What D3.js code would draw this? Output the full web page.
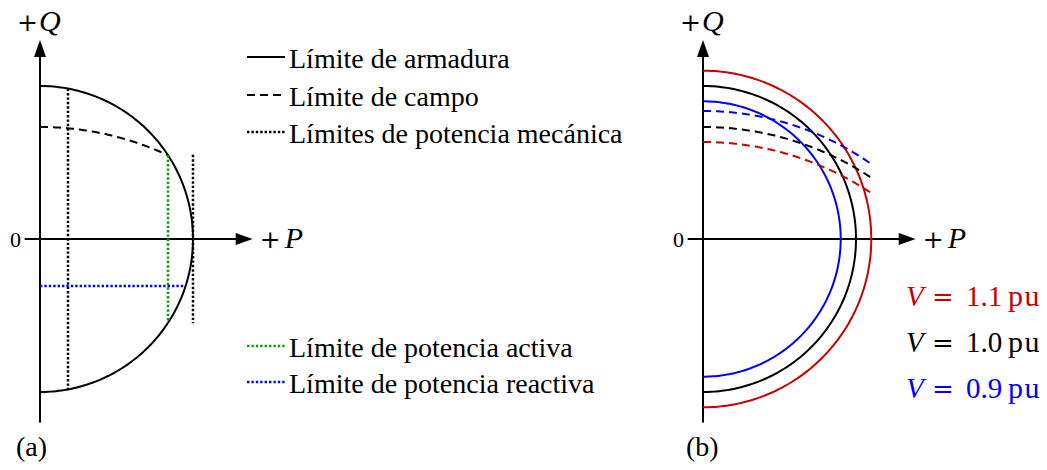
<!DOCTYPE html>
<html>
<head>
<meta charset="utf-8">
<script src="https://cdn.jsdelivr.net/npm/d3@7"></script>
<style>
  body { margin: 0; background: #fff; }
  svg { display: block; }
</style>
</head>
<body>
<svg id="chart" width="1047" height="470"></svg>
<script>
// ---- Capability-curve data (per unit) ----
const voltages       = [1.1, 1.0, 0.9];          // terminal voltage V
const voltageLabels  = ["1.1", "1.0", "0.9"];
const armatureRadius = [1.1, 1.0, 0.9];          // |S| = V · Ia,max
const fieldQ0        = [0.634, 0.732, 0.837];    // field limit, Q at P = 0
const fieldQEnd      = [0.30, 0.40, 0.49];       // field limit, Q at P = fieldPEnd
const fieldPEnd      = 1.1;
const mechanicalP    = [0.185, 1.0];             // prime-mover limits (P)
const mechanicalQMax = 0.55;                     // extent of the upper prime-mover limit
const reactiveQ      = -0.31;                    // reactive-power limit
const axisP          = [-0.1, 1.39];
const axisQ          = [-1.2, 1.3];
const legendTop      = ["Límite de armadura", "Límite de campo", "Límites de potencia mecánica"];
const legendBottom   = ["Límite de potencia activa", "Límite de potencia reactiva"];

// ---- Styles ----
const FONT = "'Liberation Serif', 'Times New Roman', Tinos, serif";
const SYM_FONT = "'DejaVu Serif', serif";   // operators (+, =)
const voltageColors = ["#c80000", "#000000", "#0000ff"];
const GREEN = "#00a400", BLUE = "#0000ff";
const LW = 2, DASH = "8,5", DOT = "2.4,2", DOT_W = 2.5;

const svg = d3.select("#chart");

function label(g) {
  return g.append("text").attr("font-family", FONT).attr("fill", "#000");
}

// Field-limit circle: centre at (0, -c), radius R, through (0,q0) and (p1,q1)
function fieldCircle(q0, p1, q1) {
  const c = (p1 * p1 + q1 * q1 - q0 * q0) / (2 * (q0 - q1));
  return { c, R: q0 + c };
}

function makeScales(x0) {
  const x = d3.scaleLinear().domain([0, 1]).range([x0, x0 + 153]);
  const y = d3.scaleLinear().domain([0, 1]).range([239, 86]);
  return { x, y };
}

function drawAxes(g, x, y) {
  const tipQ = y(axisQ[1]), tipP = x(axisP[1]);
  const L = 17, W = 6;
  g.append("line").attr("x1", x(0)).attr("x2", x(0))
    .attr("y1", y(axisQ[0])).attr("y2", tipQ + L - 2)
    .attr("stroke", "#000").attr("stroke-width", LW);
  g.append("path")
    .attr("d", `M${x(0)},${tipQ}L${x(0) - W},${tipQ + L}L${x(0) + W},${tipQ + L}Z`)
    .attr("fill", "#000");
  g.append("line").attr("x1", x(axisP[0])).attr("x2", tipP - L + 2)
    .attr("y1", y(0)).attr("y2", y(0))
    .attr("stroke", "#000").attr("stroke-width", LW);
  g.append("path")
    .attr("d", `M${tipP},${y(0)}L${tipP - L},${y(0) - W}L${tipP - L},${y(0) + W}Z`)
    .attr("fill", "#000");

  const q = label(g).attr("y", 31).attr("font-size", 30);
  q.append("tspan").attr("x", x(0) - 23).attr("font-family", SYM_FONT)
    .attr("font-size", 25).text("+");
  q.append("tspan").attr("x", x(0) - 1).attr("font-style", "italic").text("Q");
  const p = label(g).attr("y", 248).attr("font-size", 30);
  p.append("tspan").attr("x", tipP + 7).attr("font-family", SYM_FONT)
    .attr("font-size", 25).text("+");
  p.append("tspan").attr("x", tipP + 32).attr("font-style", "italic").text("P");
  label(g).attr("x", x(0) - 19).attr("y", 247)
    .attr("text-anchor", "end").attr("font-size", 22).text("0");
}

function semicircle(x, y, r) {
  const th = d3.range(0, 181).map(d => d * Math.PI / 180);
  return d3.line().x(t => x(r * Math.sin(t))).y(t => y(r * Math.cos(t)))(th);
}

function fieldPath(x, y, fc, pMax) {
  const ps = d3.range(0, 101).map(i => pMax * i / 100);
  return d3.line().x(p => x(p)).y(p => y(Math.sqrt(fc.R * fc.R - p * p) - fc.c))(ps);
}

// ================= Panel (a) =================
{
  const { x, y } = makeScales(40);
  const g = svg.append("g");
  const i = 1; // V = 1.0 pu
  const r = armatureRadius[i];
  const fc = fieldCircle(fieldQ0[i], fieldPEnd, fieldQEnd[i]);
  // intersection of the field limit with the armature limit
  const s = (fc.R * fc.R - r * r - fc.c * fc.c) / (2 * fc.c);
  const pAct = Math.sqrt(r * r - s * s);
  const px = p => Math.round(x(p));   // pixel-aligned for crisp dots

  drawAxes(g, x, y);

  g.append("path").attr("d", semicircle(x, y, r))
    .attr("fill", "none").attr("stroke", "#000").attr("stroke-width", LW);
  g.append("path").attr("d", fieldPath(x, y, fc, pAct))
    .attr("fill", "none").attr("stroke", "#000").attr("stroke-width", LW)
    .attr("stroke-dasharray", DASH);

  // prime-mover limits
  const qm0 = Math.sqrt(r * r - mechanicalP[0] * mechanicalP[0]);
  g.append("line").attr("x1", px(mechanicalP[0])).attr("x2", px(mechanicalP[0]))
    .attr("y1", y(qm0)).attr("y2", y(-qm0))
    .attr("stroke", "#000").attr("stroke-width", DOT_W).attr("stroke-dasharray", DOT);
  g.append("line").attr("x1", px(mechanicalP[1])).attr("x2", px(mechanicalP[1]))
    .attr("y1", y(mechanicalQMax)).attr("y2", y(-mechanicalQMax))
    .attr("stroke", "#000").attr("stroke-width", DOT_W).attr("stroke-dasharray", DOT);

  // active-power limit
  g.append("line").attr("x1", px(pAct)).attr("x2", px(pAct))
    .attr("y1", y(s)).attr("y2", y(-s))
    .attr("stroke", GREEN).attr("stroke-width", DOT_W).attr("stroke-dasharray", DOT);
  // reactive-power limit
  const pr = Math.sqrt(r * r - reactiveQ * reactiveQ);
  const yr = Math.round(y(reactiveQ));
  g.append("line").attr("x1", x(0)).attr("x2", x(pr))
    .attr("y1", yr).attr("y2", yr)
    .attr("stroke", BLUE).attr("stroke-width", DOT_W).attr("stroke-dasharray", DOT);

  label(g).attr("x", 16).attr("y", 456).attr("font-size", 28).text("(a)");

  // legend
  const topStyles = [{ c: "#000", d: null, w: LW }, { c: "#000", d: DASH, w: LW }, { c: "#000", d: DOT, w: DOT_W }];
  const botStyles = [{ c: GREEN, d: DOT, w: DOT_W }, { c: BLUE, d: DOT, w: DOT_W }];
  const legend = (labels, styles, y0, dy) => {
    labels.forEach((t, k) => {
      const yy = Math.round(y0 + k * dy);
      g.append("line").attr("x1", 247).attr("x2", 285).attr("y1", yy - 11).attr("y2", yy - 11)
        .attr("stroke", styles[k].c).attr("stroke-width", styles[k].w)
        .attr("stroke-dasharray", styles[k].d);
      label(g).attr("x", 289).attr("y", yy).attr("font-size", 28).text(t);
    });
  };
  legend(legendTop, topStyles, 68, 37.5);
  legend(legendBottom, botStyles, 357, 36);
}

// ================= Panel (b) =================
{
  const { x, y } = makeScales(703);
  const g = svg.append("g");
  drawAxes(g, x, y);

  voltages.forEach((v, i) => {
    g.append("path").attr("d", semicircle(x, y, armatureRadius[i]))
      .attr("fill", "none").attr("stroke", voltageColors[i]).attr("stroke-width", LW);
  });
  voltages.forEach((v, i) => {
    const fc = fieldCircle(fieldQ0[i], fieldPEnd, fieldQEnd[i]);
    g.append("path").attr("d", fieldPath(x, y, fc, fieldPEnd))
      .attr("fill", "none").attr("stroke", voltageColors[i]).attr("stroke-width", LW)
      .attr("stroke-dasharray", DASH);
  });

  label(g).attr("x", 686).attr("y", 456).attr("font-size", 28).text("(b)");

  voltages.forEach((v, i) => {
    const t = label(g).attr("y", 306 + i * 46).attr("font-size", 29)
      .attr("fill", voltageColors[i]);
    t.append("tspan").attr("x", 906).attr("font-style", "italic").text("V");
    t.append("tspan").attr("x", 932).attr("font-family", SYM_FONT).attr("font-size", 26).text("=");
    t.append("tspan").attr("x", 966).text(voltageLabels[i]);
    t.append("tspan").attr("x", 1008).attr("font-size", 30).attr("letter-spacing", 1.5).text("pu");
  });
}
</script>
</body>
</html>
